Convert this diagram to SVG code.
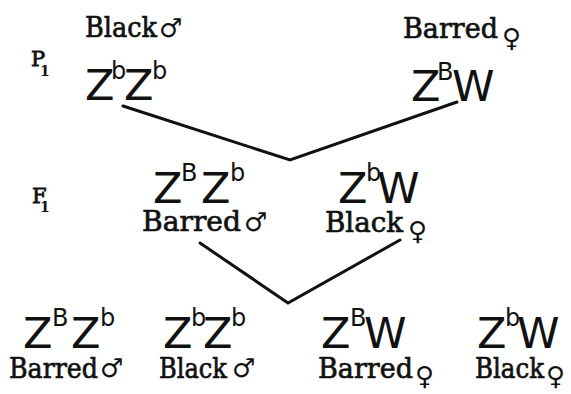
<svg xmlns="http://www.w3.org/2000/svg" width="571" height="394" viewBox="0 0 571 394">
<style>
.g{font-family:"DejaVu Sans","Liberation Sans",sans-serif;font-size:43px;fill:#111}
.s{font-family:"DejaVu Sans","Liberation Sans",sans-serif;font-size:24px;fill:#111}
.l{font-family:"DejaVu Serif","Liberation Serif",serif;font-size:28px;fill:#111;stroke:#111;stroke-width:0.7}
.sym{font-family:"DejaVu Sans",sans-serif;font-size:26px;font-weight:bold;fill:#111}
.gen{font-family:"DejaVu Serif","Liberation Serif",serif;font-size:21px;fill:#111;stroke:#111;stroke-width:0.8}
.sub{font-family:"DejaVu Serif","Liberation Serif",serif;font-size:14px;font-weight:bold;fill:#111}
.c{fill:none;stroke:#111;stroke-width:3;stroke-linecap:round;stroke-linejoin:miter}
</style>
<rect width="571" height="394" fill="#fff"/>
<g id="gen-labels">
<text class="gen" x="31" y="66">P</text><text class="sub" x="40" y="76">1</text>
<text class="gen" x="32" y="203">F</text><text class="sub" x="40" y="212">1</text>
</g>
<g id="connectors">
<polyline class="c" points="123,106 290,160 457,102"/>
<polyline class="c" points="200,243 288,303 400,240"/>
</g>
<g id="p-male">
<text class="l" x="85" y="37" textLength="72" lengthAdjust="spacingAndGlyphs">Black</text>
<text class="sym" x="159" y="37">♂</text>
<text class="g" x="85" y="100">Z</text><text class="s" x="111" y="79">b</text>
<text class="g" x="124" y="100">Z</text><text class="s" x="152" y="79">b</text>
</g>
<g id="p-female">
<text class="l" x="403" y="38" textLength="95" lengthAdjust="spacingAndGlyphs">Barred</text>
<text class="sym" x="502" y="47">♀</text>
<text class="g" x="411" y="101">Z</text><text class="s" x="437" y="80">B</text>
<text class="g" x="452" y="101">W</text>
</g>
<g id="f1-male">
<text class="g" x="153" y="203">Z</text><text class="s" x="181" y="181">B</text>
<text class="g" x="201" y="203">Z</text><text class="s" x="230" y="181">b</text>
<text class="l" x="142" y="231" textLength="99" lengthAdjust="spacingAndGlyphs">Barred</text>
<text class="sym" x="244" y="231">♂</text>
</g>
<g id="f1-female">
<text class="g" x="338" y="203">Z</text><text class="s" x="366" y="181">b</text>
<text class="g" x="377" y="203">W</text>
<text class="l" x="325" y="232" textLength="78" lengthAdjust="spacingAndGlyphs">Black</text>
<text class="sym" x="408" y="240">♀</text>
</g>
<g id="f2-barred-male">
<text class="g" x="23" y="348">Z</text><text class="s" x="52" y="326">B</text>
<text class="g" x="71" y="348">Z</text><text class="s" x="100" y="326">b</text>
<text class="l" x="9" y="378" textLength="89" lengthAdjust="spacingAndGlyphs">Barred</text>
<text class="sym" x="100" y="377">♂</text>
</g>
<g id="f2-black-male">
<text class="g" x="163" y="348">Z</text><text class="s" x="191" y="326">b</text>
<text class="g" x="203" y="348">Z</text><text class="s" x="231" y="326">b</text>
<text class="l" x="159" y="378" textLength="68" lengthAdjust="spacingAndGlyphs">Black</text>
<text class="sym" x="232" y="377">♂</text>
</g>
<g id="f2-barred-female">
<text class="g" x="321" y="348">Z</text><text class="s" x="350" y="326">B</text>
<text class="g" x="364" y="348">W</text>
<text class="l" x="318" y="378" textLength="95" lengthAdjust="spacingAndGlyphs">Barred</text>
<text class="sym" x="415" y="385">♀</text>
</g>
<g id="f2-black-female">
<text class="g" x="477" y="348">Z</text><text class="s" x="505" y="326">b</text>
<text class="g" x="517" y="348">W</text>
<text class="l" x="475" y="378" textLength="69" lengthAdjust="spacingAndGlyphs">Black</text>
<text class="sym" x="546" y="385">♀</text>
</g>
</svg>
